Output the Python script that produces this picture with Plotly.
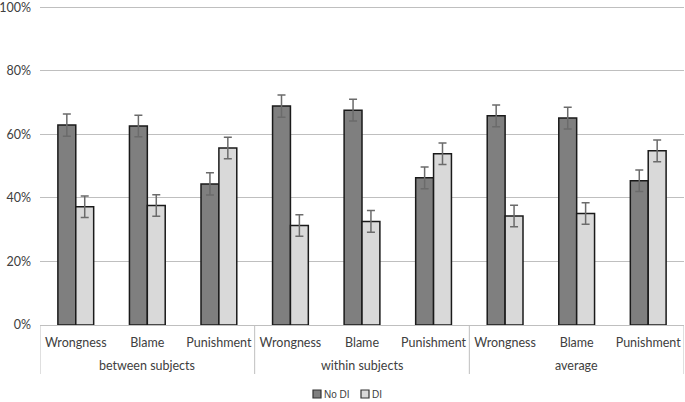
import plotly.graph_objects as go

group_names = ["between subjects", "within subjects", "average"]
measures = ["Wrongness", "Blame", "Punishment"] * 3
no_di = [62.9, 62.6, 44.4, 68.9, 67.6, 46.3, 65.8, 65.1, 45.4]
di = [37.2, 37.6, 55.7, 31.3, 32.6, 53.9, 34.3, 35.1, 54.8]
no_di_err = [3.5, 3.4, 3.5, 3.5, 3.4, 3.4, 3.4, 3.4, 3.4]
di_err = [3.4, 3.4, 3.4, 3.4, 3.4, 3.4, 3.4, 3.4, 3.4]
y_ticks = [0, 20, 40, 60, 80, 100]
series_names = ["No DI", "DI"]
series_colors = ["#7f7f7f", "#d9d9d9"]

xpos = list(range(len(measures)))

fig = go.Figure()
for name, vals, errs, col in zip(series_names, [no_di, di], [no_di_err, di_err], series_colors):
    fig.add_trace(go.Bar(
        name=name, x=xpos, y=vals, showlegend=False,
        marker=dict(color=col, line=dict(color="#1a1a1a", width=1.5)),
        error_y=dict(type="data", array=errs, color="#6b6b6b", thickness=1.5, width=4),
    ))

LEFT, RIGHT, TOP, BOT = 40, 1, 4, 77
plot_h = 402 - TOP - BOT
plot_w = 685 - LEFT - RIGHT
def py(pix):
    return (325 - pix) / plot_h
def px(pix):
    return (pix - LEFT) / plot_w

# group labels
for gi, name in enumerate(group_names):
    fig.add_annotation(x=gi * 3 + 1, xref="x", y=py(366), yref="paper",
                       text=name, showarrow=False, yanchor="middle",
                       font=dict(family="Lato, Open Sans, sans-serif", size=12.5, color="#404040"))
# dividers
for b in [-0.5, 2.5, 5.5, 8.5]:
    fig.add_shape(type="line", xref="x", yref="paper", x0=b, x1=b, y0=0, y1=py(374),
                  line=dict(color="#bfbfbf", width=1))

# legend (swatch + label)
legend_x = [313, 361]
for lx, name, col in zip(legend_x, series_names, series_colors):
    fig.add_shape(type="rect", xref="paper", yref="paper",
                  x0=px(lx), x1=px(lx + 8), y0=py(390), y1=py(398),
                  fillcolor=col, line=dict(color="#333333", width=1.2))
    fig.add_annotation(x=px(lx + 9), xref="paper", y=py(394), yref="paper",
                       text=name, showarrow=False, xanchor="left", yanchor="middle",
                       font=dict(family="Liberation Sans, Arial, sans-serif", size=10, color="#404040"))

fig.update_layout(
    width=685, height=402,
    margin=dict(l=LEFT, r=RIGHT, t=TOP, b=BOT, autoexpand=False),
    paper_bgcolor="white", plot_bgcolor="white",
    barmode="group", bargap=0.5, bargroupgap=0,
    font=dict(family="Lato, Open Sans, sans-serif", size=12.5, color="#404040"),
    showlegend=False,
)
fig.update_yaxes(
    range=[0, 101], tickvals=y_ticks, ticktext=[f"{v}%" for v in y_ticks],
    showgrid=True, gridcolor="#bfbfbf", gridwidth=1, zeroline=False,
    showline=False, ticks="", ticklabelstandoff=8, automargin=False,
    ticklabeloverflow="allow",
    tickfont=dict(size=12.5, color="#404040"),
)
fig.update_xaxes(
    range=[-0.5, 8.5], tickvals=xpos, ticktext=measures,
    showline=True, linecolor="#bfbfbf", linewidth=1, showgrid=False, zeroline=False,
    ticks="", ticklabelstandoff=6, automargin=False,
    tickfont=dict(size=12.5, color="#404040"),
)

fig.write_html("out.html", config={"displayModeBar": False},
               post_script="document.body.style.margin='0';document.body.style.overflow='hidden';")
